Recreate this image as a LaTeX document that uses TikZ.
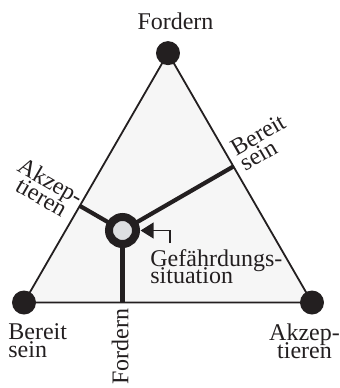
\documentclass[tikz,border=0pt]{standalone}
\usepackage{fontspec}
\setmainfont{Liberation Serif}
\usetikzlibrary{calc,arrows.meta}
\definecolor{ink}{HTML}{231F20}
\definecolor{tri}{HTML}{F6F6F6}
\definecolor{core}{HTML}{DEDFE1}
\begin{document}
\begin{tikzpicture}[x=0.5pt,y=-0.5pt,
  lbl/.style={font={\fontsize{12}{9}\selectfont\lineskiplimit=-\maxdimen}, inner sep=0pt, text=ink},
  lblg/.style={font={\fontsize{12}{8.25}\selectfont\lineskiplimit=-\maxdimen}, inner sep=0pt, text=ink},
  vertex/.style={circle, fill=ink, minimum size=12pt, inner sep=0pt},
  edge/.style={draw=ink, line width=0.9pt},
  drop/.style={draw=ink, line width=2.1pt},
  ring/.style={circle, draw=ink, fill=core, line width=4pt, minimum size=13.5pt, inner sep=0pt, outer sep=2.3pt},
  pointer/.style={draw=ink, line width=0.6pt, -{Triangle[length=6.5pt,width=8pt]}},
  ]
\useasboundingbox (0,0) rectangle (340,388);
% triangle corners
\coordinate (cT) at (168,53.1);
\coordinate (cL) at (24,302.5);
\coordinate (cR) at (312,302.5);
\coordinate (P) at (122.5,230.5);
% triangle
\fill[tri] (cT) -- (cL) -- (cR) -- cycle;
\draw[edge] (cT) -- (cL) -- (cR) -- cycle;
% feet of perpendiculars
\coordinate (fb) at ($(cL)!(P)!(cR)$);
\coordinate (fl) at ($(cL)!(P)!(cT)$);
\coordinate (fr) at ($(cR)!(P)!(cT)$);
\draw[drop] (P) -- (fb);
\draw[drop] (P) -- (fl);
\draw[drop] (P) -- (fr);
% vertices
\node[vertex] (T) at (cT) {};
\node[vertex] (L) at (cL) {};
\node[vertex] (R) at (cR) {};
% situation
\node[ring] (ring) at (P) {};
\coordinate (ak) at (170,243);
\draw[pointer] (ak) |- (ring.east);
% labels
\node[lbl, anchor=base] (fT) at (175.5,29.3) {Fordern};
\node[lbl, anchor=north west, align=left] (bL) at (8,323.7) {Bereit\\sein};
\node[lbl, anchor=north, align=center] (aR) at (304.5,323.6) {Akzep-\\tieren};
\node[lbl, rotate=90, anchor=base east] (fB) at (128.3,308) {Fordern};
\node[lbl, rotate=-30, align=center] (aL) at (46.3,188.8) {Akzep-\\tieren};
\node[lbl, rotate=30, align=left] (bR) at (262.4,142.4) {Bereit\\sein};
\node[lblg, anchor=north west, align=left] (g) at (150,249.6) {Gefährdungs-\\situation};
\end{tikzpicture}
\end{document}
